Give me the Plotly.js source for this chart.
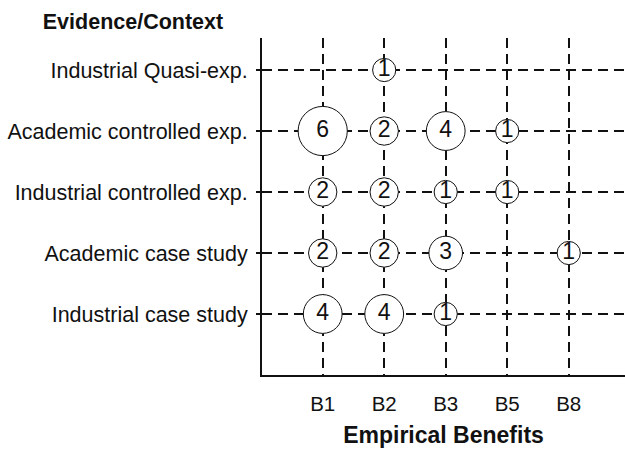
<!DOCTYPE html>
<html>
<head>
<meta charset="utf-8">
<script src="https://cdn.plot.ly/plotly-3.0.1.min.js"></script>
<style>html,body{margin:0;padding:0;background:#fff;}#chart{width:625px;height:450px;}</style>
</head>
<body>
<div id="chart"></div>
<script>
// Categories
const benefits = ['B1', 'B2', 'B3', 'B5', 'B8'];
const contexts = ['Industrial case study', 'Academic case study', 'Industrial controlled exp.', 'Academic controlled exp.', 'Industrial Quasi-exp.'];

// Counts per context row, aligned with benefits (null = no study)
const industrialCaseStudy = [4, 4, 1, null, null];
const academicCaseStudy = [2, 2, 3, null, 1];
const industrialControlled = [2, 2, 1, 1, null];
const academicControlled = [6, 2, 4, 1, null];
const industrialQuasi = [null, 1, null, null, null];

const rows = [industrialCaseStudy, academicCaseStudy, industrialControlled, academicControlled, industrialQuasi];

const xs = [], ys = [], counts = [];
rows.forEach((row, ri) => {
  row.forEach((v, ci) => {
    if (v !== null) { xs.push(benefits[ci]); ys.push(contexts[ri]); counts.push(v); }
  });
});

const FONT = '"Liberation Sans", Arial, Helvetica, sans-serif';

const trace = {
  type: 'scatter',
  mode: 'markers+text',
  x: xs,
  y: ys,
  text: counts.map(String),
  textposition: 'middle center',
  textfont: {family: FONT, size: 23, color: '#111111'},
  marker: {
    size: counts.map(c => 18 + 5.2 * c),
    sizemode: 'diameter',
    color: '#ffffff',
    opacity: 1,
    line: {color: '#111111', width: 1}
  },
  cliponaxis: false,
  hoverinfo: 'skip',
  showlegend: false
};

const layout = {
  width: 625,
  height: 450,
  margin: {l: 262, r: 0, t: 38, b: 75, pad: 0},
  paper_bgcolor: '#ffffff',
  plot_bgcolor: '#ffffff',
  font: {family: FONT, color: '#111111'},
  title: {
    text: '<b>Evidence/Context</b>',
    font: {family: FONT, size: 21.5, color: '#111111'},
    xref: 'container', yref: 'container',
    x: 133 / 625, xanchor: 'center',
    y: 1 - 21 / 450, yanchor: 'middle'
  },
  xaxis: {
    type: 'category',
    categoryorder: 'array',
    categoryarray: benefits,
    range: [-0.987, 4.915],
    showline: true, linecolor: '#111111', linewidth: 2,
    showgrid: true, gridcolor: '#111111', gridwidth: 2, griddash: '10px,6px',
    ticks: '',
    tickfont: {family: FONT, size: 20.5, color: '#111111'},
    ticklabelstandoff: 9,
    title: {text: '<b>Empirical Benefits</b>', font: {family: FONT, size: 23, color: '#111111'}, standoff: 13},
    zeroline: false,
    fixedrange: true
  },
  yaxis: {
    type: 'category',
    categoryorder: 'array',
    categoryarray: contexts,
    range: [-1.0, 4.525],
    showline: true, linecolor: '#111111', linewidth: 2,
    showgrid: true, gridcolor: '#111111', gridwidth: 2, griddash: '10px,6px',
    ticks: 'outside', ticklen: 4, tickwidth: 2, tickcolor: '#111111',
    tickfont: {family: FONT, size: 21.5, color: '#111111'},
    ticklabelstandoff: 4,
    zeroline: false,
    fixedrange: true
  },
  showlegend: false
};

Plotly.newPlot('chart', [trace], layout, {displayModeBar: false, staticPlot: true});
</script>
</body>
</html>
